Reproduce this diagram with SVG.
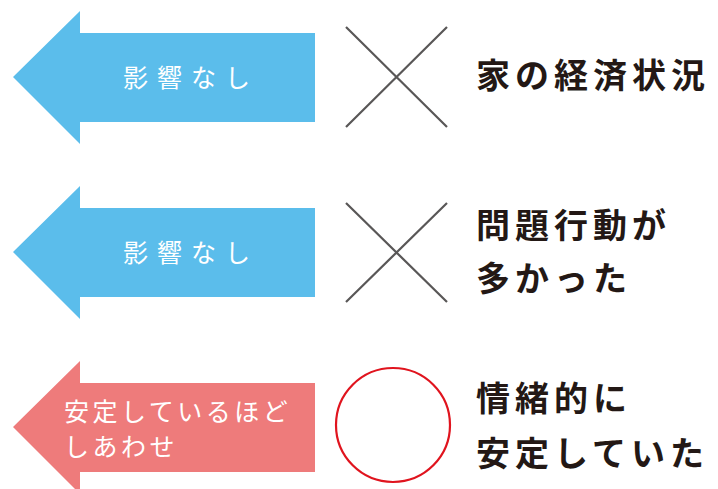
<svg xmlns="http://www.w3.org/2000/svg" width="718" height="489" viewBox="0 0 718 489">
<style>
.blue{fill:#5bbdeb}
.pink{fill:#ee7b7b}
.lab{fill:#fff;font-family:"Noto Sans CJK JP",sans-serif;font-size:25px}
.res{fill:#231815;font-family:"Noto Sans CJK JP",sans-serif;font-size:34px;font-weight:700;letter-spacing:5px}
.x{stroke:#595757;stroke-width:2.2;fill:none}
</style>
<defs>
<path id="arrow" d="M13,77 L80,11 L80,33 L315,33 L315,122 L80,122 L80,144 Z"/>
</defs>
<rect width="718" height="489" fill="#fff"/>
<g id="arrow1">
<use href="#arrow" class="blue"/>
<text class="lab" x="123" y="87" letter-spacing="9">影響なし</text>
</g>
<g id="mark1">
<path class="x" d="M346,27 L447,127 M447,27 L346,127"/>
</g>
<g id="label1">
<text class="res" x="476" y="88">家の経済状況</text>
</g>
<g id="arrow2">
<use href="#arrow" class="blue" y="175"/>
<text class="lab" x="123" y="262" letter-spacing="9">影響なし</text>
</g>
<g id="mark2">
<path class="x" d="M346,203 L447,302 M447,203 L346,302"/>
</g>
<g id="label2">
<text class="res" x="476" y="238">問題行動が</text>
<text class="res" x="476" y="291">多かった</text>
</g>
<g id="arrow3">
<use href="#arrow" class="pink" y="350"/>
<text class="lab" x="64" y="421" letter-spacing="3.5">安定しているほど</text>
<text class="lab" x="64" y="456" letter-spacing="3.5">しあわせ</text>
</g>
<g id="mark3">
<circle cx="393" cy="425" r="57" fill="none" stroke="#e0141e" stroke-width="2.2"/>
</g>
<g id="label3">
<text class="res" x="476" y="411">情緒的に</text>
<text class="res" x="476" y="466">安定していた</text>
</g>
<g id="connectors"/>
</svg>
